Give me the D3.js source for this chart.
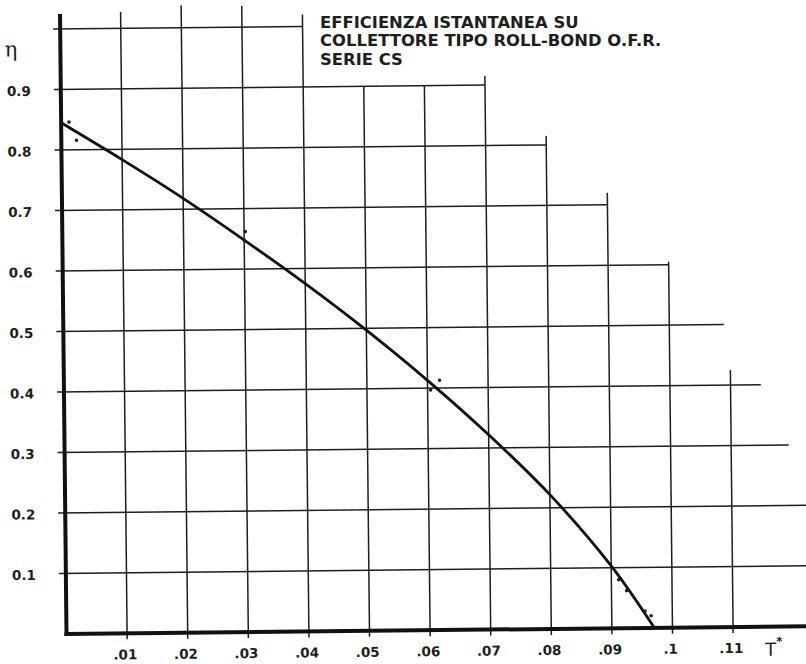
<!DOCTYPE html>
<html>
<head>
<meta charset="utf-8">
<script src="https://cdn.jsdelivr.net/npm/d3@7"></script>
<style>
  html, body { margin: 0; padding: 0; background: #fff; }
  svg { display: block; }
</style>
</head>
<body>
<div class="canvas"></div>
<script>
// efficiency curve (T* -> eta)
const tStar = [0, 0.01, 0.02, 0.03, 0.04, 0.05, 0.06, 0.07, 0.08, 0.09, 0.097];
const eta   = [0.845, 0.783, 0.718, 0.648, 0.575, 0.497, 0.413, 0.322, 0.222, 0.103, 0];

// measured points
const measT   = [0.0013, 0.0025, 0.030, 0.0302, 0.0605, 0.062, 0.0912, 0.0925, 0.0955, 0.0965];
const measEta = [0.846, 0.816, 0.648, 0.662, 0.397, 0.413, 0.080, 0.062, 0.028, 0.020];

// tick labels
const xTicks = [0.01, 0.02, 0.03, 0.04, 0.05, 0.06, 0.07, 0.08, 0.09, 0.1, 0.11];
const xTickLabels = [".01", ".02", ".03", ".04", ".05", ".06", ".07", ".08", ".09", ".1", ".11"];
const yTicks = [0.1, 0.2, 0.3, 0.4, 0.5, 0.6, 0.7, 0.8, 0.9];
const yTickLabels = ["0.1", "0.2", "0.3", "0.4", "0.5", "0.6", "0.7", "0.8", "0.9"];

// staircase grid: where each line stops
const hLevels = [0.1, 0.2, 0.3, 0.4, 0.5, 0.6, 0.7, 0.8, 0.9, 1.0];
const hEnd    = [0.13, 0.13, 0.1195, 0.115, 0.109, 0.1, 0.09, 0.08, 0.07, 0.04];
const vLevels = xTicks;
const vTop    = [1.027, 1.037, 1.035, 1.02, 0.9, 0.9, 0.915, 0.815, 0.72, 0.605, 0.425];

const title = ["EFFICIENZA ISTANTANEA SU", "COLLETTORE TIPO ROLL-BOND O.F.R.", "SERIE CS"];

const width = 806;
const height = 664;
const x0 = 66.5;
const y0 = 634;

const x = d3.scaleLinear().domain([0, 0.01]).range([x0, x0 + 60.6]);
const y = d3.scaleLinear().domain([0, 0.1]).range([y0, y0 - 60.5]);

const svg = d3.select(".canvas").append("svg")
  .attr("width", width)
  .attr("height", height);

svg.append("rect").attr("width", width).attr("height", height).attr("fill", "#fff");

// the scan is slightly rotated
const g = svg.append("g")
  .attr("transform", `rotate(-0.6, ${x0}, ${y0})`);

const ink = "#1e1e1e";

// horizontal grid lines
g.append("g").selectAll("line")
  .data(hLevels)
  .join("line")
    .attr("x1", x0 - 7)
    .attr("x2", (d, i) => x(hEnd[i]))
    .attr("y1", d => y(d))
    .attr("y2", d => y(d))
    .attr("stroke", ink)
    .attr("stroke-width", 1.5);

// vertical grid lines
g.append("g").selectAll("line")
  .data(vLevels)
  .join("line")
    .attr("x1", d => x(d))
    .attr("x2", d => x(d))
    .attr("y1", y0 + 6)
    .attr("y2", (d, i) => y(vTop[i]))
    .attr("stroke", ink)
    .attr("stroke-width", 1.5);

// axes
g.append("line")
  .attr("x1", x0).attr("x2", x0)
  .attr("y1", y0 + 2).attr("y2", y(1.025))
  .attr("stroke", "#111").attr("stroke-width", 4);
g.append("line")
  .attr("x1", x0 - 2).attr("x2", x(0.13))
  .attr("y1", y0).attr("y2", y0)
  .attr("stroke", "#111").attr("stroke-width", 4);

// tick labels
g.append("g").selectAll("text")
  .data(yTicks)
  .join("text")
    .attr("x", x0 - 30)
    .attr("y", d => y(d) + 6)
    .attr("text-anchor", "end")
    .attr("font-family", "DejaVu Sans")
    .attr("font-weight", "bold")
    .attr("font-size", 13.5)
    .attr("fill", ink)
    .text((d, i) => yTickLabels[i]);

g.append("g").selectAll("text")
  .data(xTicks)
  .join("text")
    .attr("x", d => x(d) - 2)
    .attr("y", y0 + 26)
    .attr("text-anchor", "middle")
    .attr("font-family", "DejaVu Sans")
    .attr("font-weight", "bold")
    .attr("font-size", 13.5)
    .attr("fill", ink)
    .text((d, i) => xTickLabels[i]);

// axis titles
g.append("text")
  .attr("x", 17).attr("y", 56)
  .attr("text-anchor", "middle")
  .attr("font-family", "DejaVu Serif")
  .attr("font-size", 21)
  .attr("fill", ink)
  .text("η");

g.append("text")
  .attr("x", 765).attr("y", 663)
  .attr("font-family", "DejaVu Sans")
  .attr("font-size", 18)
  .attr("fill", ink)
  .text("T")
  .append("tspan")
    .attr("dy", -10)
    .attr("font-size", 12)
    .attr("font-weight", "bold")
    .text("*");

// curve
const line = d3.line()
  .x((d, i) => x(tStar[i]))
  .y((d, i) => y(eta[i]))
  .curve(d3.curveCatmullRom.alpha(0.5));

g.append("path")
  .datum(eta)
  .attr("d", line)
  .attr("fill", "none")
  .attr("stroke", "#111")
  .attr("stroke-width", 2.8);

// measured points
g.append("g").selectAll("circle")
  .data(measT)
  .join("circle")
    .attr("cx", d => x(d))
    .attr("cy", (d, i) => y(measEta[i]))
    .attr("r", 1.8)
    .attr("fill", ink);

// title block
const tg = svg.append("g")
  .attr("transform", "translate(320,0) scale(1.095,1)");
tg.selectAll("text")
  .data(title)
  .join("text")
    .attr("x", 0)
    .attr("y", (d, i) => 28 + i * 18.5)
    .attr("font-family", "DejaVu Sans")
    .attr("font-weight", "bold")
    .attr("font-size", 15)
    .attr("fill", ink)
    .text(d => d);
</script>
</body>
</html>
